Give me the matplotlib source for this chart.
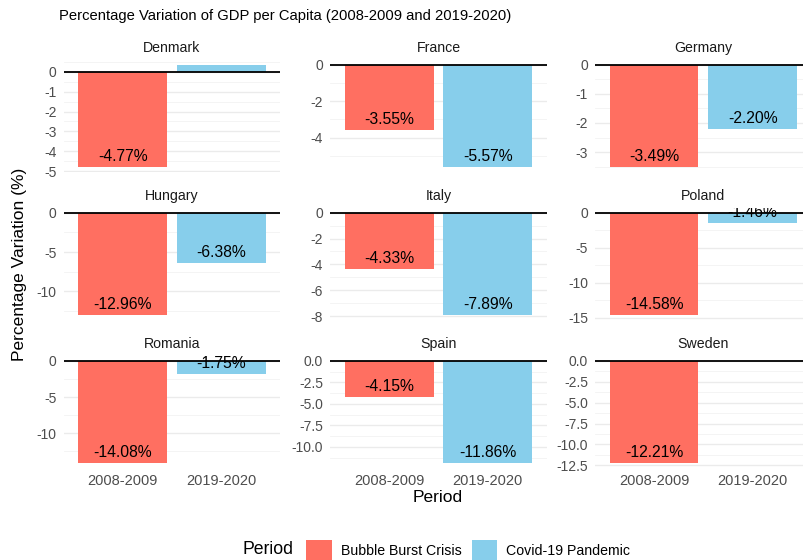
import numpy as np
import matplotlib
matplotlib.use('Agg')
import matplotlib.pyplot as plt
import matplotlib.transforms as mtransforms
from matplotlib.patches import Patch

plt.rcParams['font.family'] = ['Liberation Sans', 'DejaVu Sans']
plt.rcParams['axes.unicode_minus'] = False

# data
countries = ['Denmark', 'France', 'Germany', 'Hungary', 'Italy',
             'Poland', 'Romania', 'Spain', 'Sweden']
crisis_2008 = [-4.77, -3.55, -3.49, -12.96, -4.33, -14.58, -14.08, -4.15, -12.21]
covid_2020 = [0.37, -5.57, -2.20, -6.38, -7.89, -1.46, -1.75, -11.86, np.nan]
periods = ['2008-2009', '2019-2020']
legend_labels = ['Bubble Burst Crisis', 'Covid-19 Pandemic']
tick_steps = [1, 2, 1, 5, 2, 5, 5, 2.5, 2.5]

colors = ['#FF6F61', '#87CEEB']

W, H = 804, 560
fig = plt.figure(figsize=(W / 100, H / 100), dpi=100)

col_left = [63.6, 330.1, 595.0]
row_top = [59.4, 207.6, 355.8]
pw, ph = 216.7, 112.2

for k, country in enumerate(countries):
    r, c = divmod(k, 3)
    ax = fig.add_axes([col_left[c] / W, 1 - (row_top[r] + ph) / H, pw / W, ph / H])
    vals = [crisis_2008[k], covid_2020[k]]
    x = np.arange(len(periods))

    for i, v in enumerate(vals):
        if np.isnan(v):
            continue
        ax.bar(x[i], v, width=0.9, color=colors[i], zorder=2)

    # y range like ggplot (include 0, 5% expansion)
    good = [v for v in vals if not np.isnan(v)] + [0]
    lo, hi = min(good), max(good)
    pad = 0.05 * (hi - lo)
    ylo, yhi = lo - pad, hi + pad
    ax.set_ylim(ylo, yhi)
    ax.set_xlim(-0.6, 1.6)

    step = tick_steps[k]
    major = np.arange(np.ceil(ylo / step) * step, yhi + 1e-9, step)
    minor = np.arange(np.ceil(ylo / (step / 2)) * (step / 2), yhi + 1e-9, step / 2)
    minor = [m for m in minor if not np.any(np.isclose(m, major))]
    ax.set_yticks(major)
    ax.set_yticks(minor, minor=True)
    if step == 2.5:
        ax.set_yticklabels([f'{t:.1f}' for t in major])
    else:
        ax.set_yticklabels([f'{t:.0f}' for t in major])
    ax.grid(True, axis='y', which='major', color='#EBEBEB', linewidth=1.0, zorder=0)
    ax.grid(True, axis='y', which='minor', color='#F3F3F3', linewidth=0.6, zorder=0)
    ax.set_axisbelow(True)

    ax.axhline(0, color='black', linewidth=1.3, zorder=3)

    trans = mtransforms.offset_copy(ax.transData, fig=fig, y=4.3, units='points')
    for i, v in enumerate(vals):
        if np.isnan(v):
            continue
        t = ax.text(x[i], v, f'{v:.2f}%', transform=trans, ha='center',
                    va='baseline', fontsize=11.3, color='black', zorder=4)
        t.set_clip_box(ax.bbox)
        t.set_clip_on(True)

    ax.set_xticks(x)
    if r == 2:
        ax.set_xticklabels(periods)
    else:
        ax.set_xticklabels([])
    ax.tick_params(axis='x', length=0, pad=4, labelsize=10.5, labelcolor='#4D4D4D')
    ax.tick_params(axis='y', which='both', length=0, pad=5, labelsize=10,
                   labelcolor='#4D4D4D')
    for s in ax.spines.values():
        s.set_visible(False)
    ax.set_title(country, fontsize=10.2, color='#1A1A1A', pad=5.5)

fig.text(59 / W, 1 - 16 / H, 'Percentage Variation of GDP per Capita (2008-2009 and 2019-2020)',
         ha='left', va='center', fontsize=10.6, color='black')
fig.text(20 / W, 1 - 264 / H, 'Percentage Variation (%)', rotation=90,
         ha='center', va='center', fontsize=12.5, color='black')
fig.text(437.6 / W, 1 - 497 / H, 'Period', ha='center', va='center',
         fontsize=12.5, color='black')

handles = [Patch(facecolor=colors[0]), Patch(facecolor=colors[1])]
fig.text(243 / W, 1 - 550 / H, 'Period', ha='left', va='center', fontsize=12.7)
fig.legend(handles, legend_labels, loc='center left',
           bbox_to_anchor=(306 / W, 1 - 550 / H), ncol=2, frameon=False,
           fontsize=10.2, handlelength=1.83, handleheight=1.83,
           handletextpad=0.63, columnspacing=0.7, borderpad=0,
           borderaxespad=0)

fig.savefig('out.png', dpi=100)
